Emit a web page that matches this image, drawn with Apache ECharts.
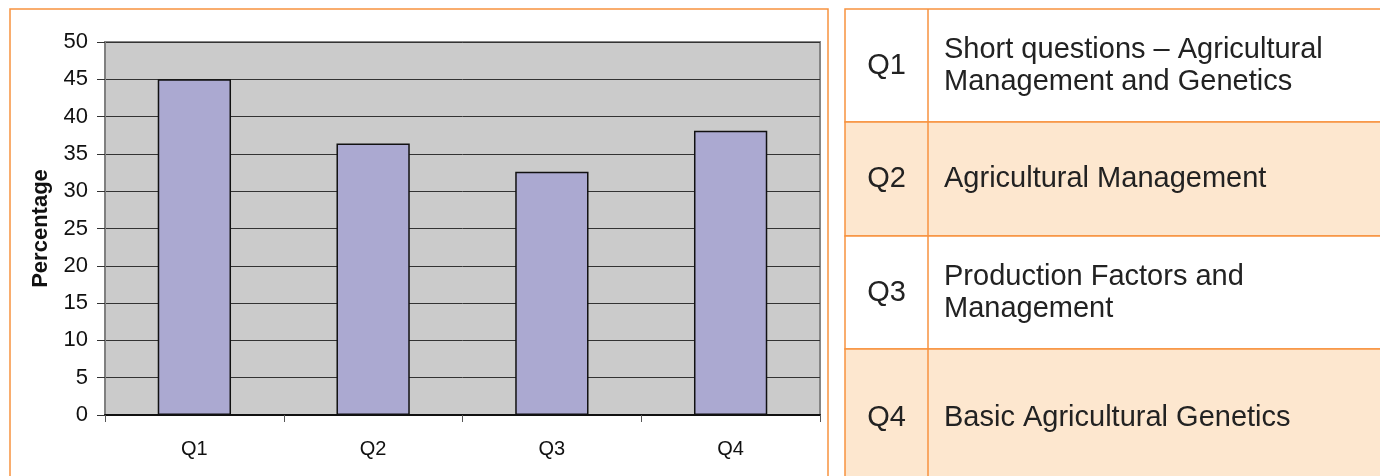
<!DOCTYPE html>
<html>
<head>
<meta charset="utf-8">
<script src="https://cdn.jsdelivr.net/npm/echarts@6/dist/echarts.min.js"></script>
<style>
  html, body { margin: 0; padding: 0; background: #fff; }
  #chart { width: 1380px; height: 476px; }
</style>
</head>
<body>
<div id="chart"></div>
<script>
// chart data
const categories = ['Q1', 'Q2', 'Q3', 'Q4'];
const percentages = [45, 36.4, 32.6, 38.1];
const yTicks = { min: 0, max: 50, interval: 5 };

// legend table on the right
const tableCodes = ['Q1', 'Q2', 'Q3', 'Q4'];
const tableTopics = [
  'Short questions – Agricultural\nManagement and Genetics',
  'Agricultural Management',
  'Production Factors and\nManagement',
  'Basic Agricultural Genetics'
];

const ORANGE = '#f7923f';
const PEACH = '#fde7cf';
const FONT = 'Liberation Sans, Arial, sans-serif';

// table layout
const rowTops = [9, 122, 236, 349];
const rowBottoms = [122, 236, 349, 486];
const tblLeft = 845, colSplit = 928, tblRight = 1400;

const graphics = [
  { // border round the chart panel
    type: 'rect', silent: true,
    shape: { x: 10, y: 9, width: 818, height: 490 },
    style: { fill: null, stroke: ORANGE, lineWidth: 1.5 }
  }
];
tableCodes.forEach((code, i) => {
  graphics.push({
    type: 'rect', silent: true,
    shape: { x: tblLeft, y: rowTops[i], width: tblRight - tblLeft, height: rowBottoms[i] - rowTops[i] },
    style: { fill: i % 2 ? PEACH : '#fff', stroke: ORANGE, lineWidth: 1.5 }
  });
  const mid = (rowTops[i] + rowBottoms[i]) / 2;
  graphics.push({
    type: 'text', silent: true, x: (tblLeft + colSplit) / 2, y: mid,
    style: { text: code, font: '29px ' + FONT, fill: '#222', align: 'center', verticalAlign: 'middle' }
  });
  graphics.push({
    type: 'text', silent: true, x: 944, y: mid,
    style: { text: tableTopics[i], font: '29px ' + FONT, lineHeight: 32, fill: '#222', align: 'left', verticalAlign: 'middle' }
  });
});
graphics.push({
  type: 'line', silent: true,
  shape: { x1: colSplit, y1: 9, x2: colSplit, y2: 490 },
  style: { stroke: ORANGE, lineWidth: 1.5 }
});

const chart = echarts.init(document.getElementById('chart'));
chart.setOption({
  animation: false,
  textStyle: { fontFamily: FONT },
  grid: {
    left: 105, right: 560, top: 42, bottom: 61,
    show: true,
    backgroundColor: '#cbcbcb',
    borderColor: '#858585',
    borderWidth: 2
  },
  xAxis: {
    type: 'category',
    data: categories,
    axisLine: { lineStyle: { color: '#111', width: 2 } },
    axisTick: { show: true, length: 7, lineStyle: { color: '#555' } },
    axisLabel: { color: '#111', fontSize: 20, margin: 24 },
    splitLine: { show: false }
  },
  yAxis: {
    type: 'value',
    min: yTicks.min, max: yTicks.max, interval: yTicks.interval,
    name: 'Percentage',
    nameLocation: 'middle',
    nameGap: 53,
    nameTextStyle: { color: '#111', fontSize: 22, fontWeight: 'bold' },
    axisLine: { show: true, lineStyle: { color: '#808080', width: 2 } },
    axisTick: { show: true, length: 8, lineStyle: { color: '#333' } },
    axisLabel: { color: '#111', fontSize: 22, margin: 17 },
    splitLine: { show: true, lineStyle: { color: '#333', width: 1 } }
  },
  series: [{
    type: 'bar',
    data: percentages,
    barWidth: '41%',
    itemStyle: { color: '#aba9d1', borderColor: '#111', borderWidth: 1.5 }
  }],
  graphic: graphics
});
</script>
</body>
</html>
